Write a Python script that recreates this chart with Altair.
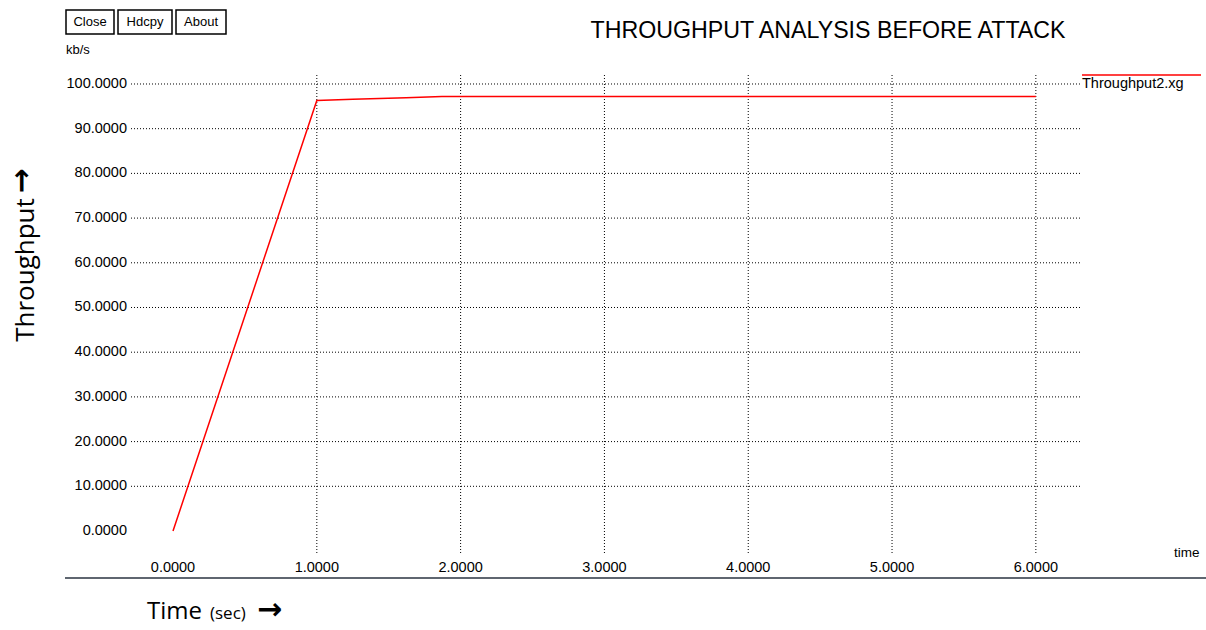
import altair as alt
import pandas as pd

# ---- data ----
time_s = [0.0, 1.0, 1.25, 1.62, 1.87, 6.0]
throughput = [0.0, 96.3, 96.6, 96.9, 97.2, 97.2]
y_ticks = [0, 10, 20, 30, 40, 50, 60, 70, 80, 90, 100]
x_ticks = [0, 1, 2, 3, 4, 5, 6]
y_grid = [10, 20, 30, 40, 50, 60, 70, 80, 90, 100]
x_grid = [1, 2, 3, 4, 5, 6]
buttons = ["Close", "Hdcpy", "About"]
title_text = "THROUGHPUT ANALYSIS BEFORE ATTACK"
series_name = "Throughput2.xg"

W, H = 951, 479
PL, PT = 129, 75
XDOM = [-0.306, 6.307]
YDOM = [-5.145, 102.01]
FONT = "Liberation Sans"

xs = alt.Scale(domain=XDOM, nice=False, zero=False)
ys = alt.Scale(domain=YDOM, nice=False, zero=False)

line_df = pd.DataFrame({"time": time_s, "thr": throughput})

def txt(s, x, y, size, align="left", font=FONT, angle=0, weight="normal", baseline="middle"):
    kw = dict(align=align, baseline=baseline, fontSize=size, font=font, color="black", fontWeight=weight)
    if angle:
        kw["angle"] = angle
    return alt.Chart(pd.DataFrame({"t": [s]})).mark_text(**kw).encode(
        text="t:N", x=alt.value(x), y=alt.value(y))

hgrid = alt.Chart(pd.DataFrame({"g": y_grid})).mark_rule(
    color="black", strokeDash=[1, 2], strokeWidth=1).encode(
    y=alt.Y("g:Q", scale=ys, axis=None))
vgrid = alt.Chart(pd.DataFrame({"g": x_grid})).mark_rule(
    color="black", strokeDash=[1, 2], strokeWidth=1).encode(
    x=alt.X("g:Q", scale=xs, axis=None))

yaxis = alt.Chart(pd.DataFrame({"v": y_ticks})).mark_text(
    align="right", baseline="middle", font=FONT, fontSize=14.5, color="black").encode(
    y=alt.Y("v:Q", scale=ys, axis=None), x=alt.value(-2), text=alt.Text("v:Q", format=".4f"))
xaxis = alt.Chart(pd.DataFrame({"v": x_ticks})).mark_text(
    align="center", baseline="middle", font=FONT, fontSize=14.5, color="black").encode(
    x=alt.X("v:Q", scale=xs, axis=None), y=alt.value(568 - PT), text=alt.Text("v:Q", format=".4f"))

line = alt.Chart(line_df).mark_line(color="#ff0000", strokeWidth=1.5).encode(
    x=alt.X("time:Q", scale=xs, axis=None),
    y=alt.Y("thr:Q", scale=ys, axis=None))

legend_line = alt.Chart(pd.DataFrame({"s": [series_name]})).mark_rule(
    color="#ff0000", strokeWidth=1.5).encode(
    x=alt.value(1082 - PL), x2=alt.value(1201 - PL), y=alt.value(75 - PT))
legend_text = txt(series_name, 1082 - PL, 84 - PT, 14.5)

bottom_rule = alt.Chart(pd.DataFrame({"s": ["b"]})).mark_rule(
    color="#5f6670", strokeWidth=2).encode(
    x=alt.value(65 - PL), x2=alt.value(1206 - PL), y=alt.value(578 - PT))

layers = [hgrid, vgrid, line, yaxis, xaxis, legend_line, legend_text, bottom_rule]

# buttons
bx = [(66, 114), (118, 172), (176, 226)]
for lab, (a, b) in zip(buttons, bx):
    layers.append(alt.Chart(pd.DataFrame({"s": [lab]})).mark_rect(
        fill="white", stroke="black", strokeWidth=1.5).encode(
        x=alt.value(a - PL), x2=alt.value(b - PL), y=alt.value(10 - PT), y2=alt.value(34 - PT)))
    layers.append(txt(lab, (a + b) / 2 - PL, 22 - PT, 13, align="center"))

layers.append(txt("kb/s", 66 - PL, 50 - PT, 13))
layers.append(txt(title_text, 828 - PL, 31 - PT, 23.2, align="center"))
layers.append(txt("time", 1174 - PL, 553 - PT, 13.5))
layers.append(txt("Time", 147 - PL, 619 - PT, 24, font="Open Sans", baseline="alphabetic"))
layers.append(txt("(sec)", 210 - PL, 619 - PT, 17, font="Open Sans", baseline="alphabetic"))
layers.append(txt("→", 257 - PL, 610 - PT, 30, font="DejaVu Sans", weight="bold"))
layers.append(txt("Throughput", 26 - PL, 270 - PT, 26, align="center", font="Open Sans",
                  angle=270, baseline="middle"))
layers.append(txt("→", 22 - PL, 181 - PT, 30, align="center", font="DejaVu Sans",
                  angle=270, weight="bold"))

chart = alt.layer(*layers).properties(
    width=W, height=H,
    autosize=alt.AutoSizeParams(type="none"),
    padding={"left": PL, "top": PT, "right": 1206 - PL - W, "bottom": 630 - PT - H},
    background="white",
).configure_view(stroke=None)

chart.save("out.html", embed_options={"renderer": "svg", "actions": False})
